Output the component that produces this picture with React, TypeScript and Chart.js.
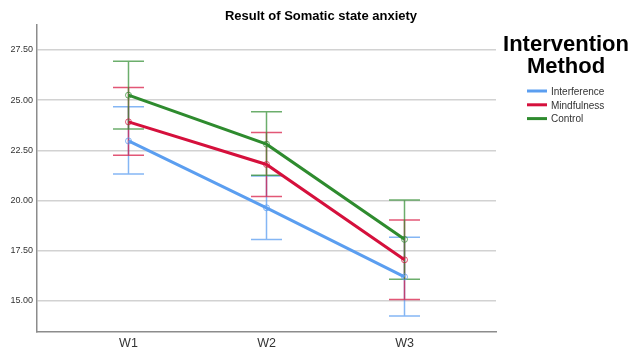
import React, { useEffect, useRef } from "react";
import { Chart, registerables } from "chart.js";

Chart.register(...registerables);

const chartTitle = "Result of Somatic state anxiety";
const legendTitle = ["Intervention", "Method"];
const categories = ["W1", "W2", "W3"];
const yTicks = [15, 17.5, 20, 22.5, 25, 27.5];

const seriesNames = ["Interference", "Mindfulness", "Control"];
const interferenceMean = [22.97, 19.64, 16.2];
const interferenceLow = [21.32, 18.06, 14.25];
const interferenceHigh = [24.67, 21.22, 18.18];
const mindfulnessMean = [23.92, 21.8, 17.05];
const mindfulnessLow = [22.26, 20.21, 15.08];
const mindfulnessHigh = [25.63, 23.39, 19.03];
const controlMean = [25.25, 22.81, 18.07];
const controlLow = [23.56, 21.26, 16.08];
const controlHigh = [26.94, 24.42, 20.03];

const lineColors = ["#5b9ef0", "#d5103c", "#2e8b2e"];
const barColors = ["rgba(91,158,240,0.75)", "rgba(213,16,60,0.7)", "rgba(46,139,46,0.7)"];

const FONT = "Arial, 'Liberation Sans', sans-serif";

export default function App() {
  const ref = useRef<HTMLCanvasElement | null>(null);

  useEffect(() => {
    if (!ref.current) return;
    const means = [interferenceMean, mindfulnessMean, controlMean];
    const lows = [interferenceLow, mindfulnessLow, controlLow];
    const highs = [interferenceHigh, mindfulnessHigh, controlHigh];

    const errorBars = {
      id: "errorBars",
      beforeDatasetsDraw(chart: any) {
        const { ctx, scales } = chart;
        const xs = scales.x;
        const ys = scales.y;
        ctx.save();
        ctx.lineWidth = 1.5;
        for (let s = 0; s < means.length; s++) {
          ctx.strokeStyle = barColors[s];
          for (let i = 0; i < categories.length; i++) {
            const x = xs.getPixelForValue(i + 1);
            const yl = ys.getPixelForValue(lows[s][i]);
            const yh = ys.getPixelForValue(highs[s][i]);
            ctx.beginPath();
            ctx.moveTo(x, yl);
            ctx.lineTo(x, yh);
            ctx.moveTo(x - 15.5, yl);
            ctx.lineTo(x + 15.5, yl);
            ctx.moveTo(x - 15.5, yh);
            ctx.lineTo(x + 15.5, yh);
            ctx.stroke();
          }
        }
        ctx.restore();
      },
    };

    const decorations = {
      id: "decorations",
      afterDraw(chart: any) {
        const { ctx } = chart;
        ctx.save();
        ctx.fillStyle = "#000";
        ctx.textAlign = "center";
        ctx.textBaseline = "alphabetic";
        ctx.font = `bold 13px ${FONT}`;
        ctx.fillText(chartTitle, 321, 20);
        ctx.font = `bold 22px ${FONT}`;
        ctx.fillText(legendTitle[0], 566, 51);
        ctx.fillText(legendTitle[1], 566, 73);
        ctx.font = `10px ${FONT}`;
        ctx.textAlign = "left";
        ctx.textBaseline = "middle";
        for (let s = 0; s < seriesNames.length; s++) {
          const y = 91 + s * 13.8;
          ctx.strokeStyle = lineColors[s];
          ctx.lineWidth = 3;
          ctx.beginPath();
          ctx.moveTo(527, y);
          ctx.lineTo(547, y);
          ctx.stroke();
          ctx.fillStyle = "#333";
          ctx.fillText(seriesNames[s], 551, y + 1);
        }
        ctx.restore();
      },
    };

    const chart = new Chart(ref.current, {
      type: "line",
      data: {
        datasets: means.map((m, s) => ({
          label: seriesNames[s],
          data: m.map((v, i) => ({ x: i + 1, y: v })),
          borderColor: lineColors[s],
          borderWidth: 3,
          pointRadius: 3,
          pointBorderWidth: 1,
          pointBorderColor: barColors[s],
          pointBackgroundColor: "rgba(0,0,0,0)",
          fill: false,
          tension: 0,
        })),
      },
      options: {
        animation: false,
        responsive: false,
        layout: { padding: { top: 25, right: 134, left: 0, bottom: 0 } },
        plugins: {
          legend: { display: false },
          title: { display: false },
          tooltip: { enabled: false },
        },
        scales: {
          x: {
            type: "linear",
            min: 0.337,
            max: 3.663,
            afterBuildTicks(scale: any) {
              scale.ticks = categories.map((_, i) => ({ value: i + 1 }));
            },
            afterFit(scale: any) {
              scale.height = 22;
            },
            ticks: {
              callback: (v: any) => categories[Math.round(Number(v)) - 1] ?? "",
              font: { family: FONT, size: 12.5 },
              color: "#333",
              padding: 4,
              maxRotation: 0,
            },
            grid: { display: false, drawTicks: false },
            border: { display: true, color: "#8c8c8c", width: 1.5 },
          },
          y: {
            type: "linear",
            min: 13.456,
            max: 28.745,
            afterBuildTicks(scale: any) {
              scale.ticks = yTicks.map((v) => ({ value: v }));
            },
            afterFit(scale: any) {
              scale.width = 37;
            },
            ticks: {
              callback: (v: any) => Number(v).toFixed(2),
              font: { family: FONT, size: 9 },
              color: "#333",
              padding: 4,
            },
            grid: { color: "#d2d2d2", lineWidth: 1.5, drawTicks: false },
            border: { display: true, color: "#8c8c8c", width: 1.5 },
          },
        },
      },
      plugins: [errorBars, decorations],
    });
    return () => chart.destroy();
  }, []);

  return (
    <div style={{ position: "absolute", left: 0, top: 0, width: 630, height: 354, background: "#fff" }}>
      <canvas ref={ref} width={630} height={354} style={{ display: "block" }} />
    </div>
  );
}
